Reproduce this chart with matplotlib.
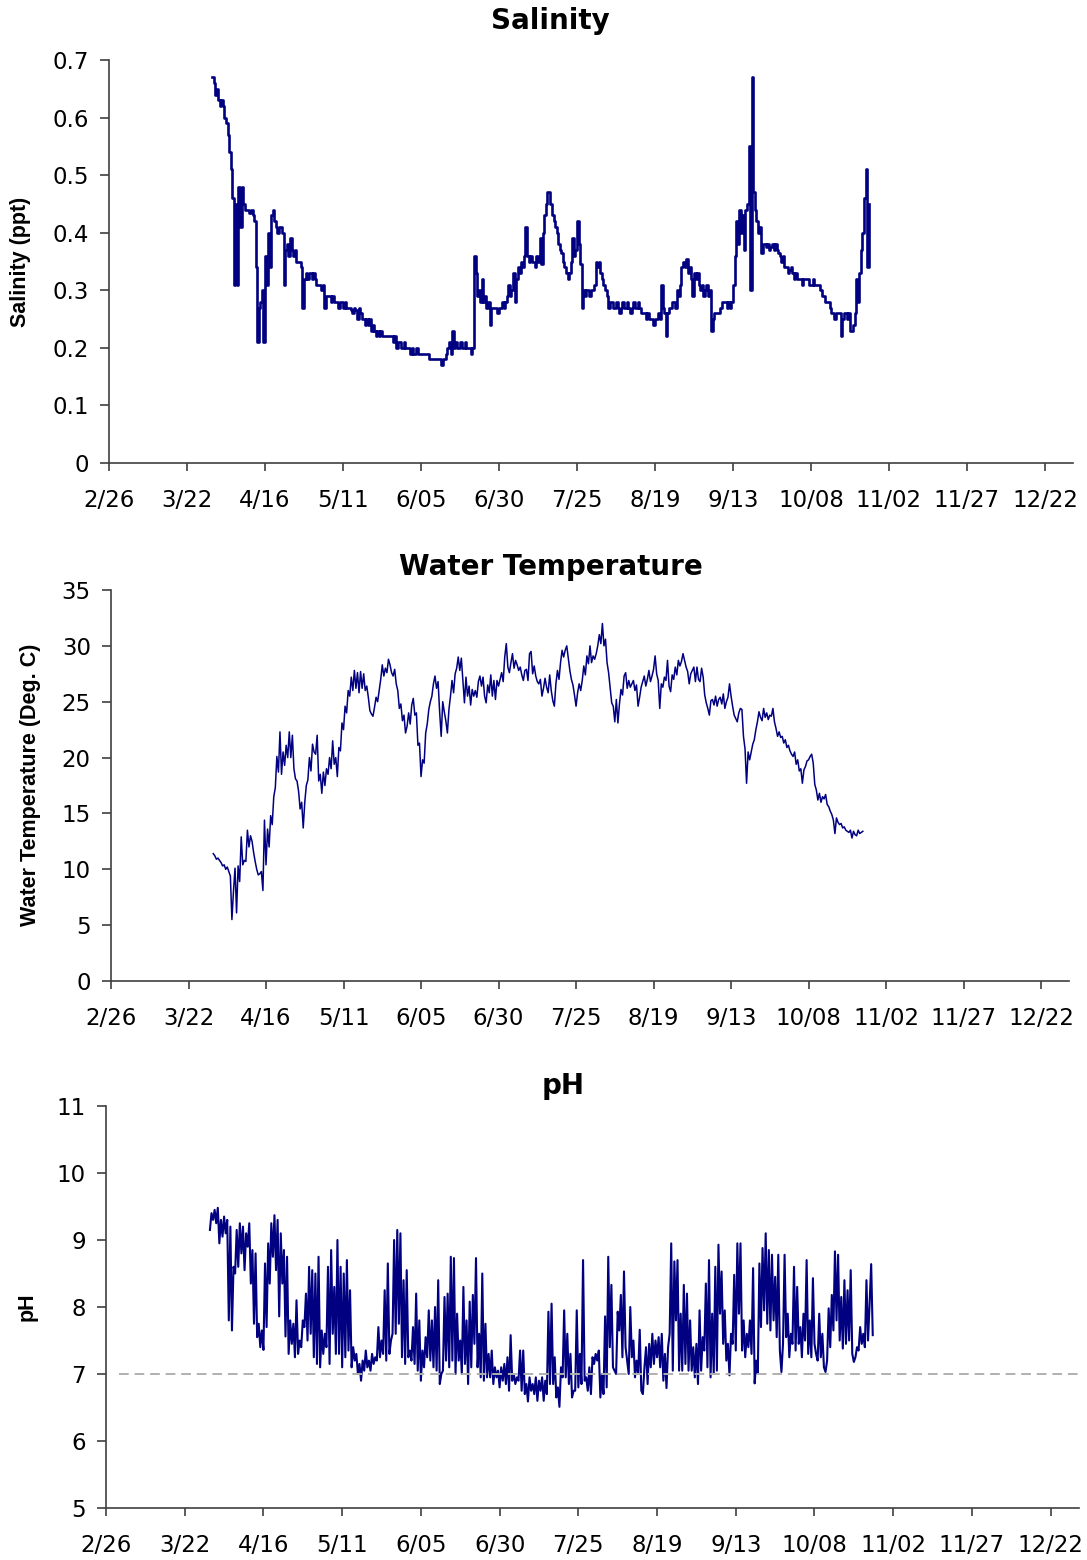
import numpy as np
import pandas as pd
import matplotlib
matplotlib.use('Agg')
import matplotlib.pyplot as plt

# 12-hourly readings from 3/30/2004
sal = [0.67,0.66, 0.64,0.65, 0.63,0.62, 0.63,0.62, 0.60,0.59,
       0.57,0.54, 0.51,0.46, 0.31,0.45, 0.31,0.48, 0.41,0.48,
       0.45,0.44, 0.44,0.44, 0.435,0.44, 0.43,0.42, 0.34,0.21,
       0.27,0.28, 0.30,0.21, 0.36,0.31, 0.40,0.34, 0.43,0.44,
       0.42,0.41, 0.40,0.41, 0.41,0.40, 0.31,0.37, 0.38,0.36,
       0.39,0.37, 0.36,0.37, 0.35,0.35, 0.35,0.34, 0.27,0.32,
       0.33,0.32, 0.33,0.33, 0.32,0.33, 0.32,0.31, 0.31,0.31,
       0.30,0.31, 0.27,0.29, 0.29,0.29, 0.28,0.29, 0.28,0.28,
       0.28,0.27, 0.28,0.28, 0.27,0.28, 0.27,0.27, 0.27,0.265,
       0.26,0.27, 0.265,0.25, 0.27,0.26, 0.25,0.25, 0.24,0.25,
       0.24,0.25, 0.23,0.24, 0.23,0.22, 0.23,0.22, 0.23,0.22,
       0.22,0.22, 0.22,0.22, 0.22,0.22, 0.21,0.22, 0.20,0.21,
       0.21,0.20, 0.20,0.21, 0.20,0.20, 0.20,0.19, 0.20,0.19,
       0.19,0.20, 0.19,0.19, 0.19,0.19, 0.19,0.19, 0.19,0.18,
       0.18,0.18, 0.18,0.18, 0.18,0.18, 0.18,0.17, 0.18,0.18,
       0.19,0.20, 0.21,0.19, 0.23,0.20, 0.21,0.20, 0.20,0.21,
       0.20,0.20, 0.21,0.20, 0.20,0.20, 0.19,0.20, 0.36,0.33,
       0.29,0.30, 0.28,0.32, 0.28,0.29, 0.27,0.28, 0.24,0.27,
       0.27,0.27, 0.27,0.26, 0.27,0.27, 0.28,0.27, 0.28,0.29,
       0.31,0.29, 0.30,0.33, 0.28,0.32, 0.34,0.33, 0.35,0.34,
       0.36,0.41, 0.36,0.35, 0.36,0.35, 0.35,0.34, 0.36,0.35,
       0.39,0.345, 0.40,0.43, 0.45,0.47, 0.47,0.45, 0.43,0.42,
       0.41,0.40, 0.38,0.37, 0.365,0.35, 0.34,0.33, 0.32,0.33,
       0.35,0.39, 0.36,0.37, 0.42,0.38, 0.345,0.27, 0.30,0.29,
       0.30,0.30, 0.29,0.30, 0.30,0.31, 0.35,0.34, 0.35,0.33,
       0.32,0.31, 0.30,0.29, 0.27,0.28, 0.28,0.27, 0.27,0.28,
       0.27,0.26, 0.27,0.28, 0.27,0.27, 0.28,0.27, 0.26,0.27,
       0.28,0.27, 0.27,0.28, 0.27,0.26, 0.26,0.26, 0.25,0.26,
       0.25,0.25, 0.25,0.24, 0.25,0.25, 0.26,0.25, 0.31,0.27,
       0.26,0.22, 0.26,0.27, 0.27,0.28, 0.28,0.27, 0.30,0.29,
       0.31,0.34, 0.35,0.34, 0.355,0.33, 0.34,0.32, 0.29,0.33,
       0.32,0.33, 0.31,0.30, 0.31,0.29, 0.30,0.31, 0.29,0.30,
       0.23,0.25, 0.26,0.26, 0.26,0.26, 0.27,0.28, 0.28,0.28,
       0.27,0.28, 0.27,0.28, 0.31,0.36, 0.42,0.38, 0.44,0.40,
       0.43,0.37, 0.44,0.45, 0.55,0.30, 0.67,0.47, 0.44,0.42,
       0.40,0.41, 0.365,0.38, 0.38,0.375, 0.38,0.37, 0.375,0.38,
       0.37,0.38, 0.37,0.365, 0.36,0.35, 0.36,0.34, 0.34,0.33,
       0.335,0.34, 0.33,0.32, 0.33,0.32, 0.32,0.32, 0.31,0.32,
       0.32,0.32, 0.32,0.31, 0.31,0.32, 0.31,0.31, 0.31,0.31,
       0.30,0.29, 0.29,0.28, 0.28,0.28, 0.27,0.26, 0.26,0.25,
       0.26,0.26, 0.26,0.22, 0.25,0.26, 0.26,0.25, 0.26,0.23,
       0.23,0.24, 0.26,0.32, 0.28,0.33, 0.37,0.40, 0.46,0.51,
       0.34,0.45]

temp = [11.4,11.2, 10.9,11.0, 10.8,10.6, 10.3,10.4, 10.0,10.2,
        9.8,9.4, 5.5,8.0, 10.1,6.1, 10.3,8.9, 12.9,10.4,
        10.8,10.7, 13.5,12.0, 13.0,12.5, 11.5,10.7, 10.0,9.5,
        9.6,9.8, 8.1,14.4, 10.4,13.6, 12.0,14.8, 14.0,16.5,
        17.3,20.1, 18.7,22.3, 18.5,20.5, 19.3,21.1, 20.0,22.3,
        20.0,22.0, 19.0,18.1, 17.9,17.0, 15.4,16.0, 13.7,16.0,
        17.5,18.0, 20.0,18.8, 21.2,20.5, 20.3,22.0, 17.9,18.5,
        16.8,18.7, 17.5,19.0, 18.5,20.0, 19.0,21.5, 19.4,20.0,
        18.3,20.9, 20.6,23.1, 22.5,24.6, 24.0,26.0, 25.5,27.2,
        26.0,27.8, 26.2,27.6, 25.8,27.7, 26.2,27.5, 26.0,26.4,
        25.4,24.2, 23.9,23.7, 24.5,25.4, 25.0,26.0, 27.0,28.3,
        27.3,28.0, 27.6,28.8, 28.3,27.6, 27.3,27.9, 26.6,26.0,
        24.4,24.8, 23.3,23.8, 22.2,22.8, 24.0,23.0, 24.7,25.3,
        23.8,24.0, 21.1,21.3, 18.3,19.8, 19.5,22.2, 23.0,24.3,
        25.0,25.5, 26.6,27.3, 26.2,26.8, 24.1,21.9, 25.0,24.1,
        23.3,22.2, 24.3,25.5, 26.9,25.8, 27.5,28.0, 29.0,27.8,
        28.9,26.9, 24.9,27.2, 25.5,26.4, 24.7,26.1, 25.5,26.0,
        25.4,26.8, 27.3,26.4, 27.2,25.5, 24.9,26.5, 25.8,27.4,
        25.5,26.9, 25.2,26.9, 26.4,27.0, 27.6,26.8, 29.0,30.2,
        28.1,27.6, 28.5,29.3, 28.0,28.7, 28.3,27.8, 28.1,27.4,
        26.9,27.8, 27.9,26.9, 29.3,29.5, 27.5,28.2, 27.3,26.8,
        26.6,27.0, 25.5,26.2, 27.1,26.3, 25.8,27.4, 26.0,25.1,
        24.6,26.6, 27.8,27.0, 28.5,29.6, 29.0,29.6, 30.0,28.9,
        27.8,27.0, 26.5,25.6, 24.6,25.8, 26.6,26.0, 26.9,28.2,
        27.4,29.1, 28.4,30.0, 28.5,29.1, 28.8,29.3, 30.0,31.0,
        30.2,32.0, 30.0,30.6, 28.5,27.6, 26.2,24.9, 24.6,23.2,
        25.2,23.1, 24.8,26.1, 25.6,27.3, 27.6,26.2, 26.9,26.3,
        26.6,26.9, 26.0,26.5, 24.6,25.4, 26.3,26.8, 27.3,26.4,
        27.0,27.8, 26.8,27.3, 27.9,29.1, 27.5,26.9, 24.4,26.6,
        26.3,27.2, 26.9,28.7, 26.4,25.9, 27.4,27.0, 28.1,27.4,
        28.7,28.2, 28.6,29.3, 28.7,28.1, 27.7,26.6, 27.5,27.8,
        28.1,26.8, 28.1,27.0, 26.8,28.0, 27.2,25.6, 24.9,24.4,
        23.8,25.1, 25.2,24.7, 25.5,24.6, 25.2,25.4, 24.8,25.7,
        24.4,25.0, 25.4,26.6, 25.5,24.6, 23.8,23.5, 23.2,24.0,
        24.4,24.3, 21.9,20.8, 17.7,20.5, 19.8,20.5, 21.2,21.6,
        22.5,23.2, 24.1,23.6, 23.3,24.4, 23.6,24.0, 23.4,23.8,
        23.7,24.4, 23.2,22.6, 21.9,22.3, 21.8,21.9, 21.3,21.6,
        20.9,21.1, 20.6,20.3, 20.1,20.5, 19.4,19.8, 18.8,19.0,
        17.7,18.9, 19.2,19.7, 19.8,20.1, 20.3,19.5, 17.6,17.1,
        16.2,16.8, 16.0,16.5, 16.3,16.7, 15.8,15.6, 15.2,14.9,
        14.4,13.2, 14.6,14.2, 14.0,14.1, 13.7,13.8, 13.5,13.4,
        13.3,13.5, 12.8,13.4, 13.1,13.0, 13.5,13.2, 13.3,13.4]

ph = [9.15,9.4, 9.3,9.45, 9.25,9.48, 8.95,9.3, 9.05,9.35,
      9.1,9.3, 7.8,9.2, 7.65,8.6, 8.5,9.15, 8.6,9.25,
      8.8,9.2, 8.55,9.1, 8.9,9.25, 8.35,8.85, 7.75,8.8,
      7.55,7.75, 7.4,7.65, 7.36,8.65, 7.7,8.95, 8.35,9.25,
      8.75,9.37, 8.55,9.3, 7.86,9.1, 8.35,8.85, 7.56,8.75,
      7.3,7.8, 7.45,7.75, 7.25,8.1, 7.3,7.5, 7.4,7.8,
      7.7,8.2, 7.5,8.6, 7.6,8.55, 7.25,8.5, 7.15,8.75,
      7.1,7.65, 7.3,7.6, 7.4,8.6, 7.15,8.85, 7.6,8.3,
      7.3,9.0, 7.3,8.6, 7.1,8.5, 7.25,8.7, 7.35,8.25,
      7.1,7.4, 7.2,7.3, 7.0,7.15, 6.9,7.2, 7.05,7.35,
      7.1,7.2, 7.05,7.3, 7.15,7.25, 7.2,7.7, 7.25,7.5,
      7.3,8.25, 7.2,8.65, 7.3,7.5, 7.6,9.0, 7.6,9.15,
      7.75,9.1, 7.25,8.4, 7.15,8.55, 7.25,7.35, 7.2,7.7,
      7.15,8.2, 7.05,7.8, 6.9,7.35, 7.1,7.55, 7.25,7.95,
      7.2,7.8, 7.1,8.0, 7.05,8.4, 6.85,7.0, 7.05,8.15,
      7.2,8.2, 7.1,8.75, 7.2,8.73, 7.0,7.9, 7.2,7.5,
      7.0,8.3, 7.15,7.8, 6.85,8.08, 7.1,8.18, 7.45,8.73,
      7.1,7.6, 6.95,8.5, 6.9,7.75, 6.95,7.3, 6.95,7.35,
      6.85,7.1, 6.95,7.05, 6.8,7.1, 6.9,7.15, 6.85,7.25,
      6.75,7.58, 6.9,7.0, 6.85,6.95, 6.9,7.35, 6.75,7.35,
      6.7,6.85, 6.59,6.95, 6.75,6.85, 6.7,6.95, 6.6,6.9,
      6.75,6.95, 6.6,6.9, 6.7,7.93, 6.85,8.05, 6.85,7.25,
      6.65,6.8, 6.51,7.1, 6.95,7.95, 6.95,7.6, 6.85,7.3,
      6.65,6.75, 6.75,7.95, 6.8,7.3, 6.85,8.7, 6.9,6.95,
      6.75,7.1, 6.7,7.25, 7.15,7.3, 7.2,7.35, 6.65,7.0,
      6.7,7.86, 6.8,8.75, 7.4,8.33, 7.1,7.05, 7.0,7.93,
      7.65,8.18, 7.25,8.53, 7.4,7.2, 7.0,8.0, 7.25,7.5,
      6.95,7.2, 7.0,7.66, 6.75,6.7, 7.1,7.4, 6.85,7.45,
      7.1,7.6, 7.15,7.5, 7.25,7.55, 7.1,7.6, 6.9,7.3,
      6.79,7.4, 7.6,8.95, 7.05,8.68, 7.8,8.7, 7.05,7.9,
      7.05,8.33, 7.15,8.2, 7.05,7.8, 7.05,7.4, 6.95,7.45,
      6.85,7.95, 7.05,7.55, 7.35,8.35, 7.1,8.7, 6.95,7.9,
      7.0,8.6, 7.05,8.93, 7.9,8.53, 7.45,7.95, 7.2,7.45,
      6.98,7.6, 7.45,8.48, 7.35,8.95, 7.9,8.95, 7.35,7.8,
      7.25,7.6, 7.4,7.8, 7.3,8.58, 6.86,7.2, 7.0,8.65,
      7.7,8.88, 7.95,9.1, 7.75,8.85, 7.65,8.78, 7.8,8.45,
      7.55,8.78, 7.35,7.03, 7.45,8.78, 7.55,7.9, 7.25,7.6,
      7.45,8.6, 7.35,8.3, 7.45,7.7, 7.25,7.9, 7.5,8.7,
      7.3,7.8, 7.25,8.43, 7.45,7.3, 7.2,7.9, 7.25,7.6,
      7.1,7.03, 7.2,7.98, 7.4,8.18, 7.65,8.83, 7.8,8.78,
      7.5,8.15, 7.38,8.4, 7.45,8.25, 7.5,8.55, 7.3,7.18,
      7.25,7.4, 7.35,7.7, 7.45,7.6, 7.4,8.4, 7.5,8.05,
      8.64,7.58]

ph_ref = [7, 7]
ph_ref_dates = ['2004-03-01', '2004-12-31']

tick_labels = ['2/26', '3/22', '4/16', '5/11', '6/05', '6/30', '7/25',
               '8/19', '9/13', '10/08', '11/02', '11/27', '12/22']
tick_dates = pd.date_range('2004-02-26', periods=len(tick_labels), freq='25D')

sal_t = pd.date_range('2004-03-30', periods=len(sal), freq='12h')
temp_t = pd.date_range('2004-03-30', periods=len(temp), freq='12h')
ph_t = pd.date_range('2004-03-30', periods=len(ph), freq='12h')

navy = '#000080'
axcol = '#404040'

fig = plt.figure(figsize=(10.87, 15.6), dpi=100)


def style(ax, yticks, ylim):
    ax.set_xlim(pd.Timestamp('2004-02-26'), pd.Timestamp('2004-12-31'))
    ax.set_xticks(tick_dates)
    ax.set_xticklabels(tick_labels)
    ax.set_ylim(*ylim)
    ax.set_yticks(yticks)
    ax.set_yticklabels([f'{v:g}' for v in yticks])
    for s in ['top', 'right']:
        ax.spines[s].set_visible(False)
    for s in ['left', 'bottom']:
        ax.spines[s].set_color(axcol)
        ax.spines[s].set_linewidth(1.2)
    ax.tick_params(axis='x', direction='out', length=6, width=1.2, color=axcol,
                   pad=13, labelsize=16.5)
    ax.tick_params(axis='y', direction='out', length=6.5, width=1.2, color=axcol,
                   pad=8, labelsize=16.5)
    for lab in ax.get_xticklabels() + ax.get_yticklabels():
        lab.set_family('DejaVu Sans')


# Salinity
ax1 = fig.add_axes([109 / 1087, 1 - 463 / 1560, 964 / 1087, 403 / 1560])
ax1.plot(sal_t, sal, color=navy, lw=1.9, drawstyle='steps-post')
style(ax1, [0, 0.1, 0.2, 0.3, 0.4, 0.5, 0.6, 0.7], (0, 0.7))

# Water temperature
ax2 = fig.add_axes([111 / 1087, 1 - 981 / 1560, 958 / 1087, 391 / 1560])
ax2.plot(temp_t, temp, color=navy, lw=1.1)
style(ax2, [0, 5, 10, 15, 20, 25, 30, 35], (0, 35))

# pH
ax3 = fig.add_axes([106 / 1087, 1 - 1508 / 1560, 973 / 1087, 402 / 1560])
ax3.plot(ph_t, ph, color=navy, lw=1.5)
ax3.plot(pd.to_datetime(ph_ref_dates), ph_ref, color='#b0b0b0', lw=1.4,
         ls=(0, (5, 3)), zorder=3)
style(ax3, [5, 6, 7, 8, 9, 10, 11], (5, 11))

tkw = dict(ha='center', va='baseline', fontsize=20, fontweight='bold',
           family='DejaVu Sans')
fig.text(550 / 1087, 1 - 29 / 1560, 'Salinity', **tkw)
fig.text(551 / 1087, 1 - 575 / 1560, 'Water Temperature', **tkw)
fig.text(563 / 1087, 1 - 1094 / 1560, 'pH', **tkw)

lkw = dict(ha='center', va='center', rotation=90, fontsize=15.5,
           fontweight='bold', family='Liberation Sans')
fig.text(21 / 1087, 1 - 262 / 1560, 'Salinity (ppt)', **lkw)
fig.text(31 / 1087, 1 - 785 / 1560, 'Water Temperature (Deg. C)', **lkw)
fig.text(27 / 1087, 1 - 1307 / 1560, 'pH', **lkw)

fig.savefig('out.png', dpi=100)
